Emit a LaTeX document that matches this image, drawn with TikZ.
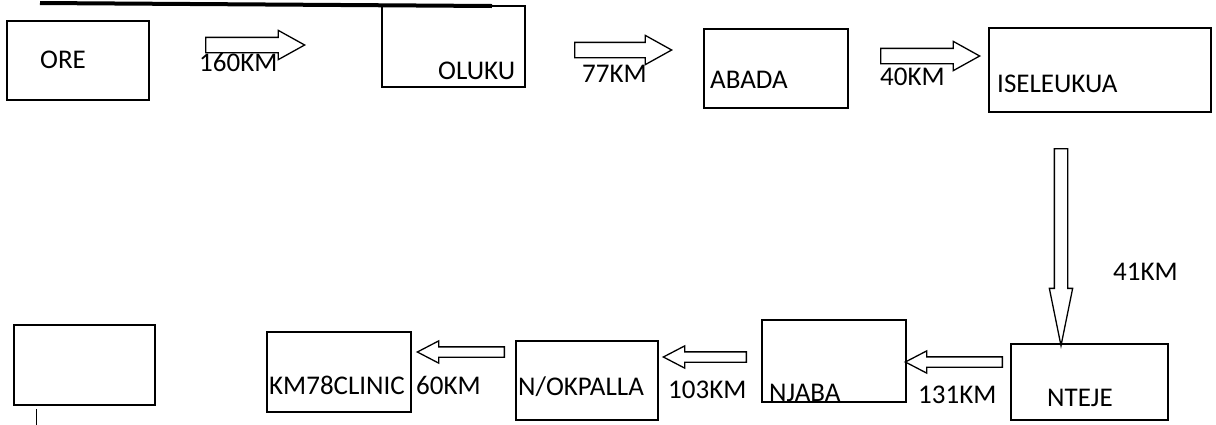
\documentclass[tikz,border=0pt]{standalone}
\usepackage{fontspec}
\setmainfont{Carlito}
\usetikzlibrary{shapes.arrows,fit}
\begin{document}
\begin{tikzpicture}[x=1pt,y=-1pt,every node/.style={inner sep=0pt},
  place/.style={draw,line width=1.5pt,fit={#1}},
  road/.style={draw,line width=1.3pt,single arrow,anchor=tail,inner xsep=0pt,minimum height=#1},
  dist/.style={font=\fontsize{27}{32}\selectfont,text height=17pt,text depth=0pt,anchor=west}]
\tikzstyle{wide}=[inner ysep=7pt,single arrow head extend=7pt,single arrow tip angle=58]
\tikzstyle{slim}=[inner ysep=4.5pt,single arrow head extend=6pt,single arrow tip angle=55,shape border rotate=180]
\useasboundingbox (0,0) rectangle (1216,424);
\draw[line width=4pt] (40,3) -- (492,6);

% top row
\node[place={(7,21)(149,100)}](ore){};
\node[dist](tore) at (40,60){ORE};
\node[road=99,wide](r1) at (205,45){};
\node[dist](d1) at (199,63){160KM};

\node[place={(382,6)(525,87)}](oluku){};
\node[dist](toluku) at (438,71){OLUKU};
\node[road=97,wide](r2) at (574,50){};
\node[dist](d2) at (582,74){77KM};

\node[place={(704,29)(848,108)}](abada){};
\node[dist](tabada) at (710,80){ABADA};
\node[road=99,wide](r3) at (880,56){};
\node[dist](d3) at (880,77){40KM};

\node[place={(989,28)(1211,112)}](iseleukua){};
\node[dist](tiseleukua) at (997,84){ISELEUKUA};

% down
\node[road=197,inner xsep=6pt,inner ysep=0pt,single arrow head extend=5pt,single arrow tip angle=23,shape border rotate=270](r4) at (1061,148){};
\node[dist](d4) at (1113,272){41KM};

% bottom row
\node[place={(1011,344)(1168,420)}](nteje){};
\node[dist](tnteje) at (1047,398){NTEJE};
\node[road=97,slim](r5) at (1003,362){};
\node[dist](d5) at (918,395){131KM};

\node[place={(762,320)(906,402)}](njaba){};
\node[dist](tnjaba) at (769,393){NJABA};
\node[road=83,slim](r6) at (747,357){};
\node[dist](d6) at (668,390){103KM};

\node[place={(516,341)(658,420)}](okpalla){};
\node[dist](tokpalla) at (518,387){N/OKPALLA};
\node[road=87,slim](r7) at (505,352){};
\node[dist](d7) at (416,386){60KM};

\node[place={(267,332)(411,412)}](clinic){};
\node[dist](tclinic) at (269,386){KM78CLINIC};

\node[place={(14,325)(155,405)}](blank){};
\draw[line width=1.5pt] (blank.south west) ++(23,3) -- ++(0,16);
\end{tikzpicture}
\end{document}
